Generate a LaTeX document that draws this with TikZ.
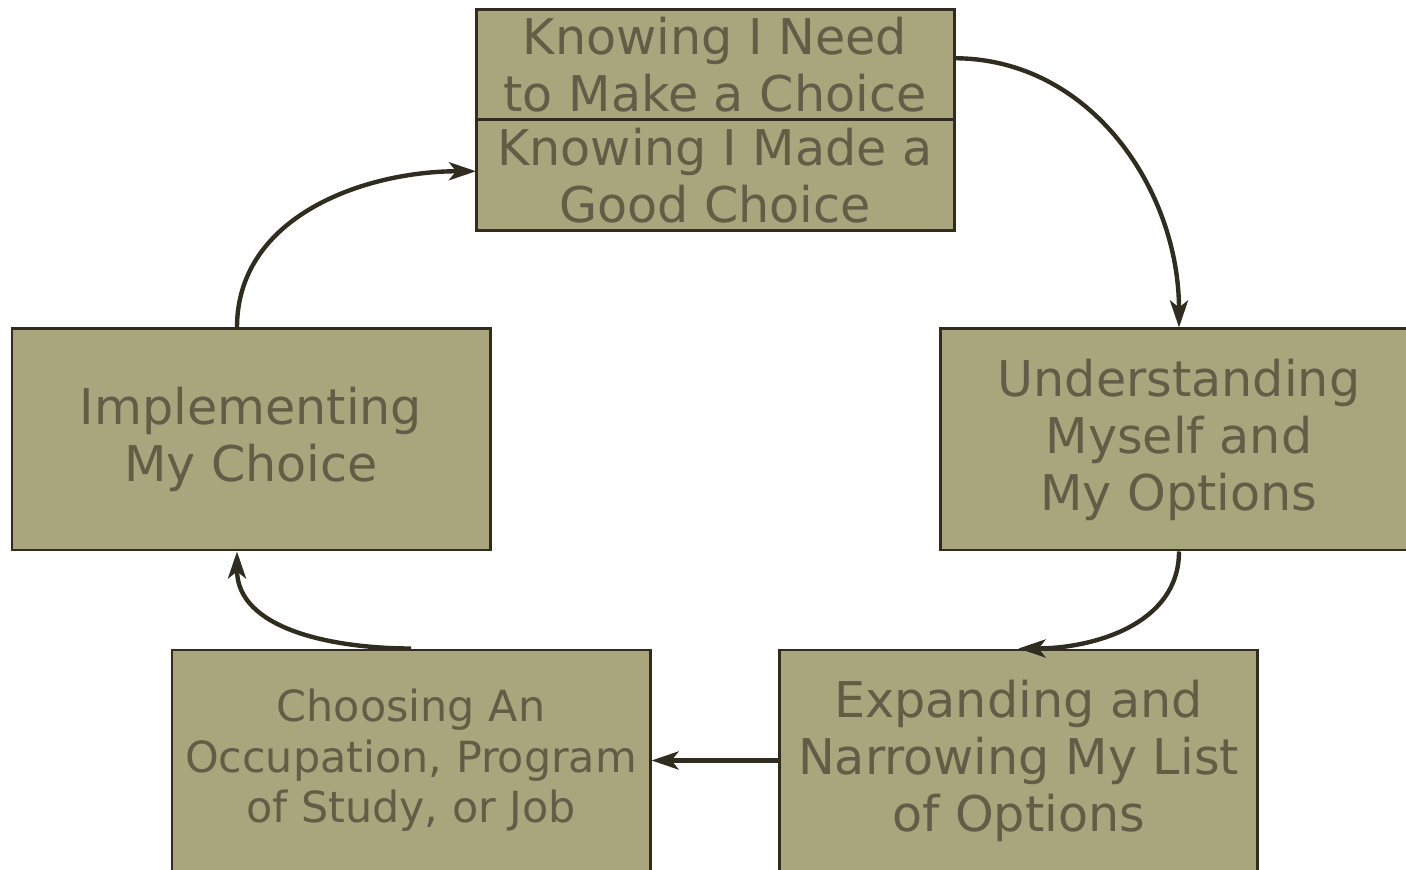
\documentclass[tikz,border=0pt]{standalone}
\usepackage{fontspec}
\setmainfont{DejaVu Sans}
\usetikzlibrary{calc, positioning, arrows.meta}

\definecolor{boxfill}{HTML}{A9A57C}
\definecolor{boxtext}{HTML}{635C46}
\definecolor{boxline}{HTML}{302C20}

\tikzset{
  stepbox/.style={draw=boxline, line width=0.85pt, fill=boxfill, text=boxtext,
    align=center, inner sep=0pt, minimum width=4.78cm, minimum height=2.21cm,
    font=\fontsize{14pt}{16.2pt}\selectfont},
  halfbox/.style={stepbox, minimum height=1.105cm, outer sep=0pt},
  cycle/.style={draw=boxline, line width=1.25pt,
    -{Stealth[length=0.27cm, width=0.18cm, inset=0.07cm]}},
}

\begin{document}
\begin{tikzpicture}

  \useasboundingbox (0, 0) rectangle (14.06, 8.69);
  \clip (0, 0) rectangle (14.06, 8.69);

  % box centres
  \coordinate (top-c)     at (7.15, 7.49);
  \coordinate (right-c)   at (11.79, 4.295);
  \coordinate (left-c)    at (2.51, 4.295);
  \coordinate (bleft-c)   at (4.11, 1.085);
  \coordinate (bright-c)  at (10.185, 1.085);

  \node[halfbox, anchor=south] (need) at (top-c) {Knowing I Need\\to Make a Choice};
  \node[halfbox, anchor=north] (made) at (top-c) {Knowing I Made a\\Good Choice};

  \node[stepbox] (understand) at (right-c) {Understanding\\Myself and\\My Options};
  \node[stepbox] (implement)  at (left-c)  {Implementing\\My Choice};
  \node[stepbox, font=\fontsize{12.2pt}{14.4pt}\selectfont] (choose) at (bleft-c)
    {Choosing An\\Occupation, Program\\of Study, or Job};
  \node[stepbox] (expand) at (bright-c) {Expanding and\\Narrowing My List\\of Options};

  % rail on the left side
  \coordinate (left-out) at ($(implement.north)+(-0.14, 0)$);
  \coordinate (left-in)  at ($(implement.south)+(-0.14, 0)$);
  \coordinate (need-out) at ($(need.east)+(0, 0.065)$);
  \coordinate (made-in)  at ($(made.west)+(0, 0.04)$);

  \draw[cycle] (need-out) to[out=0, in=90] (understand.north);
  \draw[cycle] (understand.south) to[out=-90, in=0] (expand.north);
  \draw[cycle] (expand.west) to (choose.east);
  \draw[cycle] (choose.north) to[out=180, in=-90] (left-in);
  \draw[cycle] (left-out) to[out=90, in=180] (made-in);

\end{tikzpicture}
\end{document}
